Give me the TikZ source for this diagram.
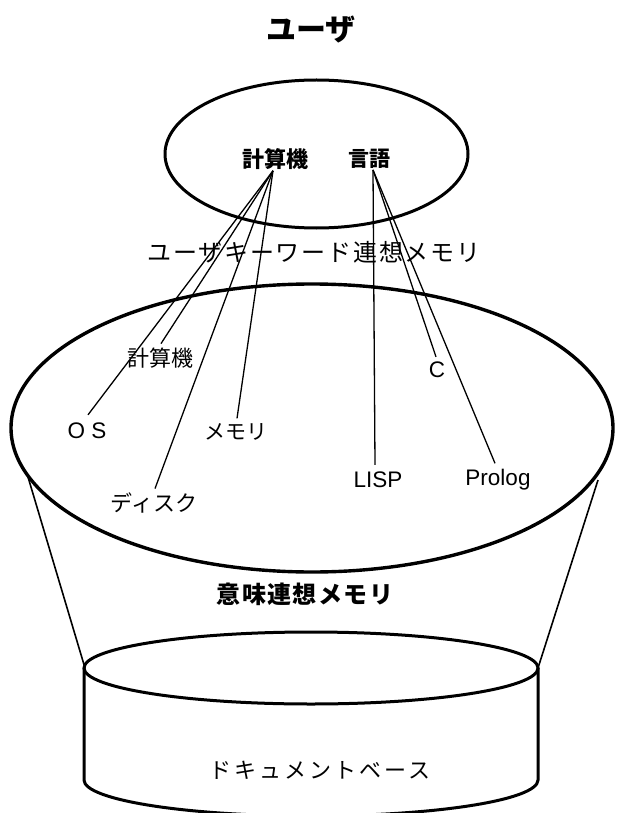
\documentclass[tikz,border=0pt]{standalone}
\usepackage{fontspec}
\setmainfont{Liberation Sans}
\newfontfamily\jp{Noto Sans CJK JP}
\newcommand\fsz[1]{\fontsize{#1}{#1}\selectfont}
\begin{document}
\begin{tikzpicture}[x=1pt,y=-1pt,
  lbl/.style={inner sep=0pt},
  jpb/.style={lbl,font=\jp\bfseries\fsz{#1}},
  jpr/.style={lbl,font=\jp\fsz{#1}},
  lat/.style={lbl,font=\fsz{22.5pt}},
  conn/.style={line width=1.3pt},
  funnel/.style={line width=1.6pt},
  rim/.style={line width=3.2pt}]
\useasboundingbox (0,0) rectangle (616,813);
\clip (0,0) rectangle (616,813);
% title
\node[jpb=30pt] (user) at (311,30) {ユーザ};
% user keyword associative memory
\draw[rim,line width=3pt] (316.5,154) ellipse [x radius=151.5pt, y radius=74pt];
\node[jpb=22pt] (k1) at (275,159) {計算機};
\node[jpb=21pt] (g) at (369,159) {言語};
\node[lbl,font=\jp\fsz{24pt}\addfontfeatures{LetterSpace=7.5}] (ukm) at (314,252) {ユーザキーワード連想メモリ};
% semantic associative memory
\draw[rim,line width=3.4pt] (312,428) ellipse [x radius=301pt, y radius=144pt];
\node[jpr=22pt] (k2) at (160,358) {計算機};
\node[lat] (os) at (87,431) {O S};
\node[lbl,font=\jp\fsz{21pt}\addfontfeatures{LetterSpace=2}] (mem) at (236,432) {メモリ};
\node[jpr=22pt] (disk) at (154,503) {ディスク};
\node[lat] (c) at (437,370) {C};
\node[lat] (lisp) at (378,480) {LISP};
\node[lat] (prolog) at (498,480) {Prolog};
\node[lbl,font=\jp\bfseries\fsz{24pt}\addfontfeatures{LetterSpace=6}] (sam) at (305,594) {意味連想メモリ};
% funnel
\coordinate (fl1) at (28,477);
\coordinate (fl2) at (85,668);
\coordinate (fr1) at (598,480);
\coordinate (fr2) at (538,668);
\draw[funnel] (fl1) -- (fl2);
\draw[funnel] (fr1) -- (fr2);
% document base cylinder
\draw[rim,line width=3pt] (311,668) ellipse [x radius=227pt, y radius=36pt];
\draw[rim,line width=3pt] (84,668) -- (84,780) arc [start angle=180, end angle=360, x radius=227pt, y radius=36pt] -- (538,668);
\node[lbl,font=\jp\fsz{22pt}\addfontfeatures{LetterSpace=14}] (db) at (320,770) {ドキュメントベース};
% connectors
\draw[conn] ([xshift=-2pt,yshift=-1pt]k1.south) -- ([xshift=1pt,yshift=8pt]os.north);
\draw[conn] ([xshift=-2pt,yshift=-1pt]k1.south) -- ([xshift=1pt,yshift=4pt]k2.north);
\draw[conn] ([xshift=-2pt,yshift=-1pt]k1.south) -- ([xshift=1pt,yshift=4pt]disk.north);
\draw[conn] ([xshift=-2pt,yshift=-1pt]k1.south) -- ([xshift=1pt,yshift=5pt]mem.north);
\draw[conn] ([xshift=4pt,yshift=-1pt]g.south) -- ([xshift=-3pt,yshift=7pt]lisp.north);
\draw[conn] ([xshift=4pt,yshift=-1pt]g.south) -- ([xshift=-1pt,yshift=5pt]c.north);
\draw[conn] ([xshift=4pt,yshift=-1pt]g.south) -- ([xshift=-3pt,yshift=6pt]prolog.north);
\end{tikzpicture}
\end{document}
